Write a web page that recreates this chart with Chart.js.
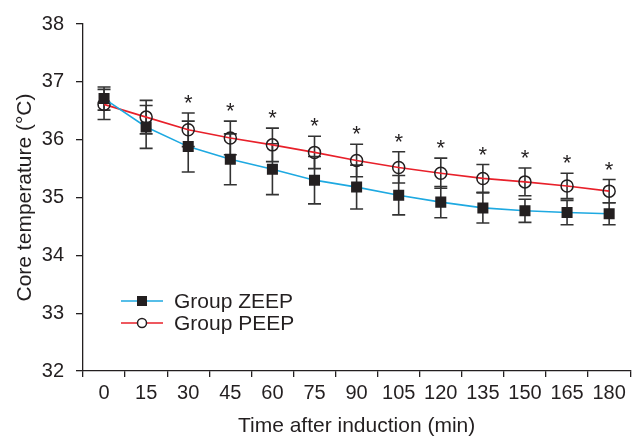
<!DOCTYPE html>
<html>
<head>
<meta charset="utf-8">
<script src="https://cdn.jsdelivr.net/npm/chart.js@4/dist/chart.umd.min.js"></script>
<style>
  html, body { margin: 0; padding: 0; background: #ffffff; }
  #wrap { width: 638px; height: 438px; }
</style>
</head>
<body>
<div id="wrap"><canvas id="c" width="638" height="438"></canvas></div>
<script>
// ---- data ----
const timeLabels = ['0','15','30','45','60','75','90','105','120','135','150','165','180'];
const zeepMean = [36.71, 36.22, 35.88, 35.66, 35.49, 35.30, 35.18, 35.04, 34.92, 34.82, 34.77, 34.74, 34.72];
const zeepSD   = [0.20, 0.37, 0.44, 0.44, 0.44, 0.41, 0.38, 0.34, 0.27, 0.26, 0.20, 0.21, 0.19];
const peepMean = [36.61, 36.39, 36.17, 36.03, 35.91, 35.78, 35.64, 35.52, 35.42, 35.33, 35.27, 35.20, 35.11];
const peepSD   = [0.26, 0.29, 0.29, 0.29, 0.29, 0.28, 0.28, 0.27, 0.26, 0.24, 0.24, 0.22, 0.20];
const significant = [false, false, true, true, true, true, true, true, true, true, true, true, true];
const seriesNames = ['Group ZEEP', 'Group PEEP'];
const yTicks = [32, 33, 34, 35, 36, 37, 38];

const INK = '#231f20';
const FONT = "'Liberation Sans', Arial, sans-serif";

const errorBarPlugin = {
  id: 'errorBars',
  beforeDatasetsDraw(chart) {
    const ctx = chart.ctx;
    const xs = chart.scales.x, ys = chart.scales.y;
    const sets = [[zeepMean, zeepSD], [peepMean, peepSD]];
    ctx.save();
    ctx.strokeStyle = '#333333';
    ctx.lineWidth = 1.6;
    const cap = 6.5;
    sets.forEach(([m, s]) => {
      m.forEach((v, i) => {
        const x = xs.getPixelForValue(i);
        const yt = ys.getPixelForValue(v + s[i]);
        const yb = ys.getPixelForValue(v - s[i]);
        ctx.beginPath();
        ctx.moveTo(x, yt); ctx.lineTo(x, yb);
        ctx.moveTo(x - cap, yt); ctx.lineTo(x + cap, yt);
        ctx.moveTo(x - cap, yb); ctx.lineTo(x + cap, yb);
        ctx.stroke();
      });
    });
    ctx.restore();
  },
  afterDraw(chart) {
    const ctx = chart.ctx;
    const xs = chart.scales.x, ys = chart.scales.y;
    ctx.save();
    // significance asterisks
    ctx.fillStyle = INK;
    ctx.font = '22px ' + FONT;
    ctx.textAlign = 'center';
    ctx.textBaseline = 'alphabetic';
    significant.forEach((sig, i) => {
      if (!sig) return;
      const x = xs.getPixelForValue(i);
      const top = Math.min(ys.getPixelForValue(peepMean[i] + peepSD[i]), ys.getPixelForValue(zeepMean[i] + zeepSD[i]));
      ctx.fillText('*', x, top - 3);
    });
    // legend
    const area = chart.chartArea;
    const lx0 = area.left + 38, lx1 = area.left + 80;
    const rows = [area.bottom - 70, area.bottom - 48];
    chart.data.datasets.forEach((ds, k) => {
      const y = rows[k];
      ctx.strokeStyle = ds.borderColor;
      ctx.lineWidth = 1.6;
      ctx.beginPath(); ctx.moveTo(lx0, y); ctx.lineTo(lx1, y); ctx.stroke();
      const cx = (lx0 + lx1) / 2;
      if (k === 0) {
        ctx.fillStyle = INK;
        ctx.fillRect(cx - 5, y - 5, 10, 10);
      } else {
        ctx.fillStyle = '#ffffff';
        ctx.strokeStyle = INK;
        ctx.lineWidth = 1.5;
        ctx.beginPath(); ctx.arc(cx, y, 4.5, 0, Math.PI * 2); ctx.fill(); ctx.stroke();
      }
      ctx.fillStyle = INK;
      ctx.font = '21px ' + FONT;
      ctx.textAlign = 'left';
      ctx.textBaseline = 'middle';
      ctx.fillText(ds.label, lx1 + 11, y + 1);
    });
    ctx.restore();
  }
};

new Chart(document.getElementById('c'), {
  type: 'line',
  data: {
    labels: timeLabels,
    datasets: [
      {
        label: seriesNames[0],
        data: zeepMean,
        borderColor: '#1ea9e1',
        borderWidth: 1.6,
        pointStyle: 'rect',
        pointRadius: 7.8,
        pointBackgroundColor: INK,
        pointBorderColor: INK,
        pointBorderWidth: 0,
        tension: 0
      },
      {
        label: seriesNames[1],
        data: peepMean,
        borderColor: '#e8202a',
        borderWidth: 1.6,
        pointStyle: 'circle',
        pointRadius: 6,
        pointBackgroundColor: 'rgba(0,0,0,0)',
        pointBorderColor: INK,
        pointBorderWidth: 1.5,
        tension: 0
      }
    ]
  },
  options: {
    responsive: false,
    animation: false,
    devicePixelRatio: 1,
    layout: { padding: { left: 0, right: 3, top: 18, bottom: 0 } },
    plugins: {
      legend: { display: false },
      tooltip: { enabled: false }
    },
    scales: {
      x: {
        type: 'category',
        offset: true,
        grid: { display: true, offset: true, drawOnChartArea: false, drawTicks: true, tickLength: 6, color: INK, lineWidth: 1.3 },
        border: { display: true, color: INK, width: 1.3 },
        ticks: { color: INK, font: { family: FONT, size: 20 }, padding: 4, maxRotation: 0, autoSkip: false },
        title: { display: true, text: 'Time after induction (min)', color: INK, font: { family: FONT, size: 21, lineHeight: 1.1 }, padding: { top: 0, bottom: 0 } },
        afterFit(scale) { scale.height = 67; }
      },
      y: {
        min: yTicks[0],
        max: yTicks[yTicks.length - 1],
        afterBuildTicks(scale) { scale.ticks = yTicks.map(v => ({ value: v })); },
        grid: { display: true, drawOnChartArea: false, drawTicks: true, tickLength: 7, color: INK, lineWidth: 1.3 },
        border: { display: true, color: INK, width: 1.3 },
        ticks: { color: INK, font: { family: FONT, size: 20 }, padding: 12 },
        title: { display: true, text: 'Core temperature (°C)', color: INK, font: { family: FONT, size: 21, lineHeight: 1.1 }, padding: { top: 14, bottom: 0 } },
        afterFit(scale) { scale.width = 83; }
      }
    }
  },
  plugins: [errorBarPlugin]
});
</script>
</body>
</html>
